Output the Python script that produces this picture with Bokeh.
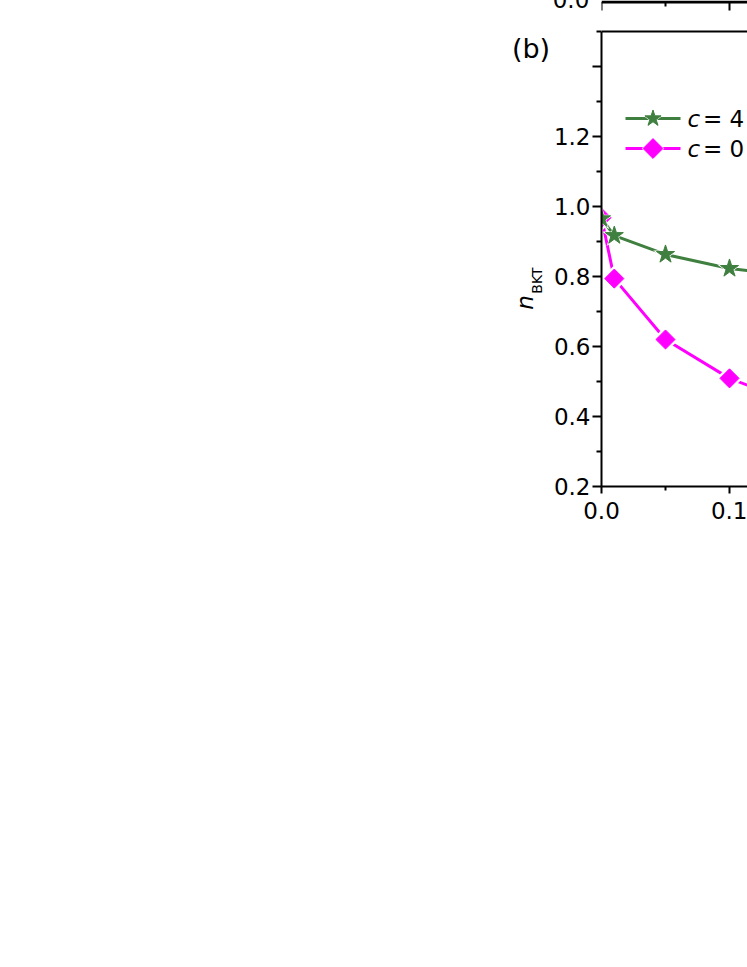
import math
from bokeh.plotting import figure
from bokeh.models import Range1d, FixedTicker, NumeralTickFormatter, Span, Label
from bokeh.embed import file_html
from bokeh.resources import INLINE

# ---- data (panel b) ----
x_vals = [0.0, 0.01, 0.05, 0.1, 0.2]
n_c4 = [0.965, 0.917, 0.863, 0.823, 0.780]
n_c0 = [0.968, 0.794, 0.620, 0.509, 0.370]
series_c = ["4", "0"]
y_ticks = [0.2, 0.4, 0.6, 0.8, 1.0, 1.2, 1.4]
y_minor = [0.3, 0.5, 0.7, 0.9, 1.1, 1.3, 1.5]
x_ticks = [0.0, 0.1]
x_minor = [0.05, 0.15]

FONT = "DejaVu Sans"
GREEN = "#3f7f3f"
MAGENTA = "#ff00ff"

# ---- geometry (page pixels) ----
FL, FR, FT, FB = 601, 747, 0, 486      # frame edges
PXX, PXY = 1280.0, 350.0                # pixels per data unit
Y0 = 0.2                                # value at frame bottom


def px2x(px):
    return (px - FL) / PXX


def py2y(py):
    return Y0 + (FB - py) / PXY


p = figure(width=FR, height=FB + 52, output_backend="svg", toolbar_location=None,
           x_range=Range1d(0, px2x(FR)), y_range=Range1d(Y0, py2y(FT)),
           min_border_left=FL, min_border_right=0, min_border_top=0,
           min_border_bottom=52)
p.outline_line_color = None
p.grid.visible = False
p.background_fill_color = "white"
p.border_fill_color = "white"

for ax in (p.xaxis[0], p.yaxis[0]):
    ax.axis_line_width = 2
    ax.major_tick_line_width = 2
    ax.minor_tick_line_width = 2
    ax.major_tick_in = 0
    ax.minor_tick_in = 0
    ax.major_label_text_font = FONT
    ax.major_label_text_font_size = "23px"
    ax.major_label_text_color = "black"
    ax.axis_line_color = "black"
    ax.major_tick_line_color = "black"
    ax.minor_tick_line_color = "black"
    ax.formatter = NumeralTickFormatter(format="0.0")

p.xaxis.ticker = FixedTicker(ticks=x_ticks, minor_ticks=x_minor)
p.xaxis.major_tick_out = 7
p.xaxis.minor_tick_out = 4
p.xaxis.major_label_standoff = 8

p.yaxis.ticker = FixedTicker(ticks=y_ticks, minor_ticks=y_minor)
p.yaxis.bounds = (0.2, 1.5)
p.yaxis.major_tick_out = 9
p.yaxis.minor_tick_out = 5
p.yaxis.major_label_standoff = 2
p.yaxis.major_label_overrides = {1.4: ""}

# top frame line of panel (b)
p.add_layout(Span(location=1.5, dimension="width", line_color="black", line_width=2))

# bottom axis of panel (a), just visible at the top edge
p.add_layout(Span(location=py2y(1.5), dimension="width", line_color="black", line_width=3))
p.segment(x0=x_ticks, y0=[py2y(1.5)] * len(x_ticks), x1=x_ticks,
          y1=[py2y(10)] * len(x_ticks), line_color="black", line_width=2)
p.segment(x0=x_minor, y0=[py2y(1.5)] * len(x_minor), x1=x_minor,
          y1=[py2y(6)] * len(x_minor), line_color="black", line_width=2)

# c = 0 series (magenta diamonds)
p.line(x_vals, n_c0, line_color=MAGENTA, line_width=3)
p.scatter(x_vals, n_c0, marker="square", angle=math.pi / 4, size=19,
          fill_color="white", line_color=None)
p.scatter(x_vals, n_c0, marker="square", angle=math.pi / 4, size=13.5,
          fill_color=MAGENTA, line_color=MAGENTA)
# c = 4 series (green stars)
p.line(x_vals, n_c4, line_color=GREEN, line_width=3)
p.scatter(x_vals, n_c4, marker="star", size=26, fill_color="white", line_color=None)
p.scatter(x_vals, n_c4, marker="star", size=19, fill_color=GREEN, line_color=GREEN)

# ---- legend (drawn by hand) ----
legend_rows = [
    (GREEN, "star", 17, 23, 118, series_c[0]),
    (MAGENTA, "square", 14, 16, 148, series_c[1]),
]
for color, marker, size, wsize, row_py, cval in legend_rows:
    ly = py2y(row_py)
    p.line([px2x(625), px2x(680)], [ly, ly], line_color=color, line_width=3)
    ang = math.pi / 4 if marker == "square" else 0
    p.scatter([px2x(652.5)], [ly], marker=marker, angle=ang, size=wsize,
              fill_color="white", line_color=None)
    p.scatter([px2x(652.5)], [ly], marker=marker, angle=ang, size=size,
              fill_color=color, line_color=color)
    mid = py2y(row_py + 0.5)
    p.add_layout(Label(x=px2x(687), y=mid, text="c", text_font=FONT,
                       text_font_size="23px", text_font_style="italic",
                       text_color="black", text_baseline="middle",
                       text_align="left"))
    p.add_layout(Label(x=px2x(702.4), y=mid, text="= " + cval, text_font=FONT,
                       text_font_size="23px", text_color="black",
                       text_baseline="middle", text_align="left"))

# ---- texts outside the frame (placed in the left side panel, data units) ----
side_labels = [
    dict(text="n", x=px2x(524.5), y=py2y(302), angle=math.pi / 2,
         text_font_size="23px", text_font_style="italic"),
    dict(text="BKT", x=px2x(536.5), y=py2y(280), angle=math.pi / 2,
         text_font_size="14px"),
    dict(text="(b)", x=px2x(530.5), y=py2y(48), angle=0,
         text_font_size="27px"),
    dict(text="0.0", x=px2x(570.5), y=py2y(-1.3), angle=0,
         text_font_size="23px"),
]
for kw in side_labels:
    p.add_layout(Label(text_font=FONT, text_color="black", text_align="center",
                       text_baseline="middle", **kw), "left")

open("out.html", "w").write(file_html(p, INLINE))
